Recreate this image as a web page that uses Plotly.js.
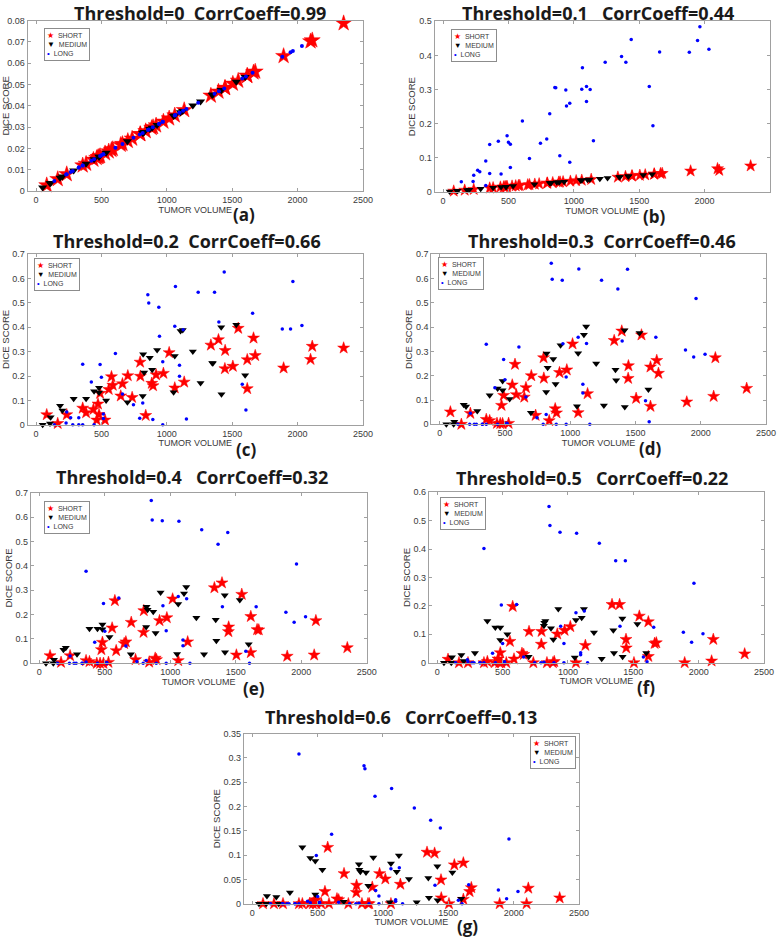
<!DOCTYPE html>
<html>
<head>
<meta charset="utf-8">
<script src="https://cdn.plot.ly/plotly-3.0.1.min.js"></script>
<style>
  html, body { margin: 0; padding: 0; background: #fff; }
  #plot { width: 778px; height: 938px; }
</style>
</head>
<body>
<div id="plot"></div>
<script>
// tumor volumes, shared by every threshold
const shortVol = [82, 166, 235, 357, 383, 439, 464, 474, 482, 490, 528, 556, 577, 587, 648, 661, 702, 735, 796, 798, 839, 885, 895, 918, 974, 1018, 1061, 1133, 1337, 1395, 1444, 1446, 1505, 1546, 1615, 1615, 1663, 1676, 1893, 2099, 2112, 2352];
const mediumVol = [51, 107, 112, 184, 202, 288, 383, 444, 482, 482, 536, 699, 816, 819, 827, 870, 888, 926, 1052, 1061, 1105, 1122, 1199, 1258, 1347, 1352, 1416, 1418, 1531, 1599];
const longVol = [140, 230, 235, 265, 281, 327, 327, 357, 357, 423, 444, 490, 500, 515, 515, 607, 661, 745, 793, 816, 855, 862, 893, 939, 944, 969, 969, 1061, 1066, 1097, 1097, 1125, 1150, 1240, 1365, 1398, 1439, 1577, 1605, 1656, 1883, 1946, 1964, 2033];

// dice scores, threshold 0
const shortDice0 = [0.0027, 0.0056, 0.0079, 0.012, 0.0128, 0.0147, 0.0155, 0.0159, 0.0161, 0.0164, 0.0177, 0.0186, 0.0193, 0.0197, 0.0217, 0.0221, 0.0235, 0.0246, 0.0267, 0.0267, 0.0281, 0.0296, 0.03, 0.0308, 0.0326, 0.0341, 0.0355, 0.038, 0.0448, 0.0467, 0.0484, 0.0484, 0.0504, 0.0518, 0.0541, 0.0541, 0.0557, 0.0561, 0.0634, 0.0703, 0.0708, 0.0788];
const mediumDice0 = [0.0017, 0.0036, 0.0038, 0.0062, 0.0068, 0.0096, 0.0128, 0.0149, 0.0161, 0.0161, 0.018, 0.0234, 0.0273, 0.0274, 0.0277, 0.0291, 0.0297, 0.031, 0.0352, 0.0355, 0.037, 0.0376, 0.0402, 0.0421, 0.0451, 0.0453, 0.0474, 0.0475, 0.0513, 0.0536];
const longDice0 = [0.0047, 0.0077, 0.0079, 0.0089, 0.0094, 0.011, 0.011, 0.012, 0.012, 0.0142, 0.0149, 0.0164, 0.0168, 0.0173, 0.0173, 0.0203, 0.0221, 0.025, 0.0266, 0.0273, 0.0286, 0.0289, 0.0299, 0.0315, 0.0316, 0.0325, 0.0325, 0.0355, 0.0357, 0.0367, 0.0367, 0.0377, 0.0385, 0.0415, 0.0457, 0.0468, 0.0482, 0.0528, 0.0538, 0.0555, 0.0631, 0.0652, 0.0658, 0.0681];

// threshold 0.1
const shortDice1 = [0.0026, 0.0054, 0.0077, 0.0116, 0.0124, 0.0143, 0.015, 0.0154, 0.0156, 0.0159, 0.0172, 0.018, 0.0187, 0.0191, 0.021, 0.0214, 0.0228, 0.0239, 0.0259, 0.0259, 0.0273, 0.0287, 0.0291, 0.0299, 0.0316, 0.0331, 0.0344, 0.0369, 0.0435, 0.0453, 0.047, 0.047, 0.0489, 0.0502, 0.0525, 0.0525, 0.054, 0.0544, 0.0615, 0.0682, 0.0635, 0.0764];
const mediumDice1 = [0.0016, 0.0035, 0.0037, 0.006, 0.0066, 0.0093, 0.0124, 0.0145, 0.0156, 0.0156, 0.0175, 0.0227, 0.0265, 0.0266, 0.0269, 0.0282, 0.0288, 0.0301, 0.0341, 0.0344, 0.0359, 0.0365, 0.039, 0.0408, 0.0437, 0.0439, 0.046, 0.0461, 0.0498, 0.052];
const longDice1 = [0.03, 0.031, 0.049, 0.064, 0.059, 0.091, 0.019, 0.139, 0.054, 0.149, 0.053, 0.165, 0.146, 0.14, 0.072, 0.208, 0.098, 0.143, 0.155, 0.229, 0.306, 0.305, 0.106, 0.299, 0.252, 0.26, 0.087, 0.301, 0.364, 0.309, 0.265, 0.3, 0.15, 0.38, 0.397, 0.38, 0.447, 0.309, 0.194, 0.41, 0.409, 0.444, 0.484, 0.418];

// threshold 0.2
const shortDice2 = [0.041, 0.005, 0.041, 0.068, 0.049, 0.063, 0.019, 0.085, 0.042, 0.129, 0.019, 0.145, 0.197, 0.162, 0.118, 0.168, 0.201, 0.112, 0.257, 0.199, 0.038, 0.17, 0.16, 0.205, 0.211, 0.296, 0.151, 0.175, 0.327, 0.349, 0.23, 0.305, 0.24, 0.396, 0.267, 0.148, 0.356, 0.284, 0.233, 0.268, 0.322, 0.315];
const mediumDice2 = [0, 0.005, 0.031, 0.078, 0.058, 0.107, 0.107, 0.137, 0.152, 0.132, 0.099, 0.092, 0.118, 0.289, 0.214, 0.275, 0.226, 0.307, 0.133, 0.282, 0.385, 0.389, 0.301, 0.171, 0.253, 0.252, 0.4, 0.125, 0.411, 0.203];
const longDice2 = [0, 0.007, 0.052, 0.029, 0, 0.029, 0, 0.248, 0, 0.175, 0, 0.247, 0.195, 0.044, 0.025, 0.292, 0.126, 0.082, 0.026, 0.089, 0.534, 0.5, 0.021, 0.482, 0.363, 0.259, 0, 0.404, 0.568, 0.244, 0.199, 0.39, 0.023, 0.544, 0.544, 0.422, 0.627, 0.166, 0.06, 0.458, 0.393, 0.393, 0.588, 0.408];

// threshold 0.3
const shortDice3 = [0.051, 0, 0.045, 0.02, 0.015, 0.004, 0.003, 0.078, 0.003, 0.119, 0.004, 0.162, 0.247, 0.122, 0.112, 0.151, 0.2, 0.037, 0.274, 0.19, 0.015, 0.064, 0.047, 0.213, 0.224, 0.331, 0.048, 0.126, 0.345, 0.384, 0.189, 0.241, 0.107, 0.368, 0.074, 0.236, 0.263, 0.21, 0.092, 0.115, 0.274, 0.148];
const mediumDice3 = [0, 0, 0.01, 0.08, 0.073, 0.055, 0.12, 0.147, 0.178, 0.14, 0.104, 0.048, 0.133, 0.292, 0.233, 0.269, 0.166, 0.326, 0.074, 0.293, 0.369, 0.403, 0.25, 0.077, 0.225, 0.181, 0.387, 0.071, 0.376, 0.143];
const longDice3 = [0, 0, 0.045, 0, 0, 0, 0, 0.33, 0, 0.15, 0, 0.267, 0.183, 0.003, 0.004, 0.318, 0.112, 0.027, 0, 0.04, 0.663, 0.597, 0, 0.593, 0.332, 0.195, 0, 0.358, 0.639, 0.165, 0.129, 0.333, 0, 0.593, 0.557, 0.343, 0.638, 0.097, 0.01, 0.358, 0.306, 0.277, 0.518, 0.288];

// threshold 0.4
const shortDice4 = [0.031, 0.004, 0.031, 0.011, 0.007, 0, 0, 0.056, 0.086, 0, 0.004, 0.145, 0.257, 0.052, 0.081, 0.088, 0.168, 0.015, 0.127, 0.216, 0.005, 0.021, 0.015, 0.175, 0.187, 0.264, 0.011, 0.088, 0.31, 0.33, 0.13, 0.149, 0.034, 0.283, 0.192, 0.044, 0.138, 0.137, 0.029, 0.034, 0.175, 0.064];
const mediumDice4 = [0, 0, 0.015, 0.056, 0.064, 0.037, 0.142, 0.142, 0.159, 0.14, 0.108, 0.037, 0.149, 0.232, 0.22, 0.212, 0.124, 0.29, 0.038, 0.243, 0.286, 0.313, 0.187, 0.037, 0.179, 0.093, 0.279, 0.045, 0.26, 0.078];
const longDice4 = [0, 0, 0.03, 0, 0, 0, 0, 0.378, 0.005, 0.086, 0, 0.245, 0.131, 0, 0.003, 0.268, 0.071, 0.007, 0, 0.012, 0.668, 0.588, 0, 0.585, 0.236, 0.134, 0, 0.274, 0.583, 0.096, 0.072, 0.265, 0, 0.548, 0.488, 0.232, 0.537, 0.049, 0, 0.232, 0.209, 0.168, 0.407, 0.191];

// threshold 0.5
const shortDice5 = [0.012, 0, 0, 0, 0.004, 0, 0.013, 0, 0.035, 0, 0, 0.075, 0.198, 0.013, 0.033, 0.029, 0.11, 0, 0.065, 0.11, 0, 0, 0.004, 0.101, 0.114, 0.127, 0, 0.061, 0.205, 0.205, 0.082, 0.052, 0, 0.164, 0.022, 0.144, 0.068, 0.07, 0, 0.006, 0.082, 0.031];
const mediumDice5 = [0, 0, 0.019, 0.027, 0.006, 0.034, 0.147, 0.124, 0.124, 0.08, 0.1, 0.021, 0.13, 0.141, 0.147, 0.121, 0.082, 0.189, 0.018, 0.15, 0.158, 0.189, 0.106, 0.014, 0.114, 0.034, 0.156, 0.021, 0.136, 0.034];
const longDice5 = [0, 0.01, 0.003, 0, 0, 0, 0, 0.402, 0, 0.033, 0, 0.203, 0.068, 0, 0.003, 0.205, 0.02, 0, 0, 0.002, 0.55, 0.483, 0, 0.459, 0.128, 0.068, 0, 0.176, 0.456, 0.035, 0.028, 0.182, 0, 0.421, 0.359, 0.128, 0.359, 0.02, 0.003, 0.125, 0.107, 0.072, 0.28, 0.102];

// threshold 0.6
const shortDice6 = [0, 0, 0, 0, 0, 0, 0, 0.005, 0.008, 0, 0, 0.025, 0.116, 0, 0.01, 0.008, 0.062, 0, 0.023, 0.038, 0, 0, 0, 0.034, 0.062, 0.051, 0, 0.04, 0.106, 0.104, 0.049, 0.012, 0, 0.08, 0.009, 0.084, 0.025, 0.033, 0, 0, 0.032, 0.012];
const mediumDice6 = [0, 0, 0.016, 0.014, 0, 0.023, 0.116, 0.094, 0.088, 0.019, 0.07, 0.004, 0.081, 0.07, 0.066, 0.064, 0.037, 0.095, 0.003, 0.083, 0.066, 0.099, 0.051, 0.003, 0.053, 0.012, 0.077, 0.007, 0.064, 0.01];
const longDice6 = [0, 0, 0, 0, 0, 0, 0, 0.308, 0, 0.005, 0.002, 0.099, 0.015, 0.003, 0, 0.143, 0.003, 0, 0, 0.001, 0.284, 0.278, 0, 0.221, 0.027, 0.016, 0, 0.072, 0.237, 0.008, 0.005, 0.074, 0, 0.197, 0.172, 0.038, 0.156, 0.007, 0, 0.039, 0.028, 0.01, 0.133, 0.025];

const panelTitles = [
  'Threshold=0  CorrCoeff=0.99',
  'Threshold=0.1   CorrCoeff=0.44',
  'Threshold=0.2  CorrCoeff=0.66',
  'Threshold=0.3  CorrCoeff=0.46',
  'Threshold=0.4   CorrCoeff=0.32',
  'Threshold=0.5   CorrCoeff=0.22',
  'Threshold=0.6   CorrCoeff=0.13',
];
const panelLabels = ['(a)', '(b)', '(c)', '(d)', '(e)', '(f)', '(g)'];
const yTop = [0.08, 0.5, 0.7, 0.7, 0.7, 0.6, 0.35];
const yStep = [0.01, 0.1, 0.1, 0.1, 0.1, 0.1, 0.05];
const xTicks = [0, 500, 1000, 1500, 2000, 2500];

const shortSets = [shortDice0, shortDice1, shortDice2, shortDice3, shortDice4, shortDice5, shortDice6];
const mediumSets = [mediumDice0, mediumDice1, mediumDice2, mediumDice3, mediumDice4, mediumDice5, mediumDice6];
const longSets = [longDice0, longDice1, longDice2, longDice3, longDice4, longDice5, longDice6];

// page geometry (pixels)
const W = 778, H = 938;
const boxes = [ // left, right, top, bottom
  [27.5, 363, 20.7, 191],
  [434.5, 770, 21.3, 192],
  [27.5, 363, 254.3, 424.7],
  [431.2, 766, 254.3, 424.3],
  [30.8, 366.7, 492.7, 663.3],
  [428.8, 764, 492.3, 662.7],
  [243.8, 579, 733.7, 903.7],
];
const titlePos = [[200, 12.5], [598, 12.5], [187, 241], [602, 241], [192, 477], [592, 478], [401, 717]];
const labelPos = [[244, 215], [654, 216], [246, 449], [650, 448], [254, 688], [646, 687], [467, 926]];
const legendPos = [[44, 28], [451, 29], [34, 258], [438, 257], [44, 501], [440, 497], [530, 736]];

const gray = '#a0a0a0';
const textGray = '#3a3a3a';

const traces = [];
const layout = {
  width: W,
  height: H,
  margin: { l: 0, r: 0, t: 0, b: 0 },
  showlegend: false,
  paper_bgcolor: '#fff',
  plot_bgcolor: '#fff',
  annotations: [],
};

const nb = (s) => s.replace(/ /g, '\u00a0');

for (let i = 0; i < 7; i++) {
  const suf = i === 0 ? '' : String(i + 1);
  const big = i === 0;
  const [l, r, t, b] = boxes[i];

  traces.push({
    x: shortVol, y: shortSets[i], xaxis: 'x' + suf, yaxis: 'y' + suf,
    type: 'scatter', mode: 'markers', name: 'SHORT', cliponaxis: false,
    marker: { symbol: 'star', size: big ? 12 : 9, color: '#ff0000', line: { color: '#ff0000', width: 0.5 } },
  });
  traces.push({
    x: mediumVol, y: mediumSets[i], xaxis: 'x' + suf, yaxis: 'y' + suf,
    type: 'scatter', mode: 'markers', name: 'MEDIUM', cliponaxis: false,
    marker: { symbol: 'triangle-down', size: big ? 8 : 7, color: '#000000' },
  });
  traces.push({
    x: longVol, y: longSets[i], xaxis: 'x' + suf, yaxis: 'y' + suf,
    type: 'scatter', mode: 'markers', name: 'LONG', cliponaxis: false,
    marker: { symbol: 'circle', size: big ? 4 : 3.5, color: '#0000ff' },
  });

  layout['xaxis' + suf] = {
    domain: [l / W, r / W],
    anchor: 'y' + suf,
    range: [-65, 2500],
    tickvals: xTicks,
    ticks: 'inside', ticklen: 3, tickcolor: gray,
    showline: true, linecolor: gray, linewidth: 1, mirror: 'ticks',
    showgrid: false, zeroline: false, automargin: false,
    tickfont: { family: 'Liberation Sans', size: 9, color: textGray },
    title: { text: 'TUMOR VOLUME', standoff: 2, font: { family: 'Liberation Sans', size: 9, color: textGray } },
  };
  layout['yaxis' + suf] = {
    domain: [1 - b / H, 1 - t / H],
    anchor: 'x' + suf,
    range: [0, yTop[i]],
    dtick: yStep[i], tick0: 0,
    ticks: 'inside', ticklen: 3, tickcolor: gray,
    showline: true, linecolor: gray, linewidth: 1, mirror: 'ticks',
    showgrid: false, zeroline: false, automargin: false,
    tickfont: { family: 'Liberation Sans', size: 9, color: textGray },
    title: { text: 'DICE SCORE', standoff: 1, font: { family: 'Liberation Sans', size: 9.5, color: textGray } },
  };

  layout.annotations.push({
    text: nb(panelTitles[i]),
    xref: 'paper', yref: 'paper',
    x: titlePos[i][0] / W, y: 1 - titlePos[i][1] / H,
    xanchor: 'center', yanchor: 'middle', showarrow: false,
    font: { family: 'Open Sans', size: 18, weight: 700, color: '#1a1a1a' },
  });
  layout.annotations.push({
    text: panelLabels[i],
    xref: 'paper', yref: 'paper',
    x: labelPos[i][0] / W, y: 1 - labelPos[i][1] / H,
    xanchor: 'center', yanchor: 'middle', showarrow: false,
    font: { family: 'Open Sans', size: 17, weight: 700, color: '#1a1a1a' },
  });

  const sym = big ? 8 : 7.5;
  layout.annotations.push({
    text: '<span style="color:#ff0000;font-size:' + sym + 'px">\u2605</span>\u00a0\u00a0SHORT<br>' +
          '<span style="color:#000;font-size:' + sym + 'px">\u25bc</span>\u00a0\u00a0MEDIUM<br>' +
          '<span style="color:#0000ff;font-size:' + sym + 'px">\u2022</span>\u00a0\u00a0LONG',
    xref: 'paper', yref: 'paper',
    x: legendPos[i][0] / W, y: 1 - legendPos[i][1] / H,
    xanchor: 'left', yanchor: 'top', align: 'left', showarrow: false,
    bgcolor: '#fff', bordercolor: '#8c8c8c', borderwidth: 1, borderpad: 2,
    font: { family: 'Liberation Sans', size: 7, color: textGray },
  });
}

Plotly.newPlot('plot', traces, layout, { displayModeBar: false, staticPlot: true });
</script>
</body>
</html>
